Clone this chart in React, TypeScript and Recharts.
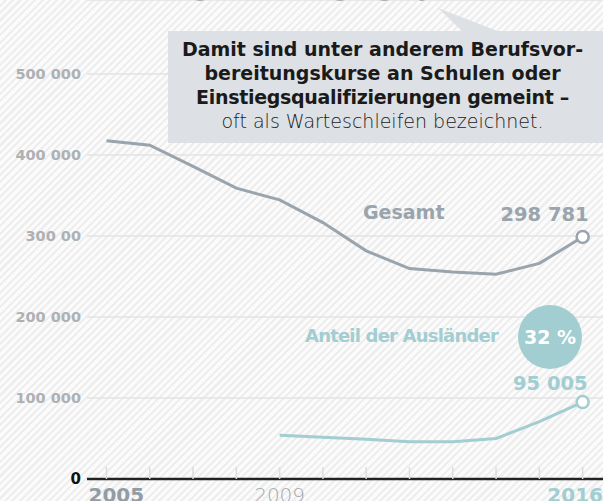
import React from "react";
import {
  LineChart,
  Line,
  XAxis,
  YAxis,
  CartesianGrid,
} from "recharts";

const years = [2005, 2006, 2007, 2008, 2009, 2010, 2011, 2012, 2013, 2014, 2015, 2016];
const gesamt = [417647, 412083, 386000, 358969, 344515, 316494, 281662, 259727, 255401, 252670, 266190, 298781];
const auslaender = [null, null, null, null, 54000, 51500, 49000, 46000, 46000, 50000, 70700, 95005];
const yTicks = [0, 100000, 200000, 300000, 400000, 500000];
const yTickLabels = ["0", "100 000", "200 000", "300 00", "400 000", "500 000"];
const xLabelled = [2005, 2009, 2016];

const W = 603;
const H = 501;
const X_AXIS_H = 22;
const PLOT_BOTTOM = H - X_AXIS_H;

const GRAY = "#9aa4ad";
const TEAL = "#a2cdd1";
const FONT = "'DejaVu Sans', sans-serif";

const data = years.map((year, i) => ({
  year,
  gesamt: gesamt[i],
  auslaender: auslaender[i],
}));

const fmt = (v: number) => String(Math.round(v)).replace(/\B(?=(\d{3})+(?!\d))/g, " ");

function YTick({ x, y, payload }: any) {
  const i = yTicks.indexOf(payload.value);
  const zero = payload.value === 0;
  return (
    <text
      x={x + 2}
      y={y + 5}
      textAnchor="end"
      fontFamily={FONT}
      fontWeight={700}
      fontSize={zero ? 15 : 14.5}
      fill={zero ? "#111" : "#aeb1b4"}
    >
      {yTickLabels[i]}
    </text>
  );
}

function XTick({ x, payload }: any) {
  const v = payload.value;
  const label = xLabelled.includes(v);
  // first label starts at its tick, last one ends at the edge
  const anchor = v === 2005 ? "start" : v === 2016 ? "end" : "middle";
  const lx = v === 2005 ? x - 18 : v === 2016 ? W : x;
  return (
    <g>
      <line x1={x} x2={x} y1={PLOT_BOTTOM - 12} y2={PLOT_BOTTOM} stroke="#dcdcdc" strokeWidth={1.5} />
      {label && (
        <text
          x={lx}
          y={PLOT_BOTTOM + 23}
          textAnchor={anchor}
          fontFamily={FONT}
          fontWeight={v === 2009 ? 300 : 700}
          fontSize={20}
          fill={v === 2016 ? TEAL : v === 2009 ? "#a4a8ac" : "#939ca4"}
        >
          {v}
        </text>
      )}
    </g>
  );
}

// only the last point gets a ring
function endDot(color: string) {
  return (props: any) => {
    const { cx, cy, index } = props;
    if (index !== years.length - 1) return <g key={index} />;
    return <circle key={index} cx={cx} cy={cy} r={6} fill="#fff" stroke={color} strokeWidth={2.5} />;
  };
}

function endLabel(color: string, dx: number, dy: number) {
  return (props: any) => {
    const { x, y, index, value } = props;
    if (index !== years.length - 1) return <g key={index} />;
    return (
      <text key={index} x={x + dx} y={y + dy} textAnchor="end" fontFamily={FONT} fontWeight={700} fontSize={19.5} fill={color}>
        {fmt(value)}
      </text>
    );
  };
}

export default function App() {
  return (
    <div
      style={{
        position: "absolute",
        left: 0,
        top: 0,
        width: W,
        height: H,
        overflow: "hidden",
        background: "repeating-linear-gradient(135deg, #fbfbfb 0px, #fbfbfb 3px, #eeeeee 3px, #eeeeee 5.2px)",
        fontFamily: FONT,
      }}
    >
      {/* title, mostly above the crop */}
      <div
        style={{
          position: "absolute",
          left: 124,
          top: -22,
          fontSize: 21,
          fontWeight: 700,
          color: "#111",
          whiteSpace: "nowrap",
        }}
      >
        Anfänger im Übergangssystem
      </div>

      <LineChart width={W} height={H} data={data} margin={{ top: 0, right: 0, bottom: 0, left: 0 }}>
        <CartesianGrid vertical={false} stroke="#e3e3e3" strokeWidth={1.5} />
        <XAxis
          dataKey="year"
          type="number"
          domain={[2004.55, 2016.47]}
          ticks={years}
          tick={<XTick />}
          tickLine={false}
          axisLine={{ stroke: "#222", strokeWidth: 2.5 }}
          height={X_AXIS_H}
          interval={0}
        />
        <YAxis
          type="number"
          domain={[0, 591300]}
          ticks={yTicks}
          tick={<YTick />}
          tickLine={false}
          axisLine={false}
          width={87}
          interval={0}
        />
        <Line
          dataKey="gesamt"
          stroke={GRAY}
          strokeWidth={3}
          type="linear"
          dot={endDot(GRAY)}
          activeDot={false}
          label={endLabel(GRAY, 6, -16)}
          isAnimationActive={false}
        />
        <Line
          dataKey="auslaender"
          stroke={TEAL}
          strokeWidth={3}
          type="linear"
          dot={endDot(TEAL)}
          activeDot={false}
          connectNulls={false}
          label={endLabel(TEAL, 5, -12)}
          isAnimationActive={false}
        />
      </LineChart>

      {/* callout */}
      <svg width={W} height={150} style={{ position: "absolute", left: 0, top: 0 }}>
        <polygon points="438,8 463,32 500,32" fill="#dde1e5" />
        <rect x={168} y={31} width={W - 168} height={112} fill="#dde1e5" />
      </svg>
      <div
        style={{
          position: "absolute",
          left: 168,
          top: 37,
          width: W - 168,
          textAlign: "center",
          fontSize: 19,
          lineHeight: "24px",
          color: "#1a1a1a",
          whiteSpace: "nowrap",
        }}
      >
        <div style={{ fontWeight: 700, marginLeft: -6 }}>Damit sind unter anderem Berufsvor-</div>
        <div style={{ fontWeight: 700, marginLeft: -6 }}>bereitungskurse an Schulen oder</div>
        <div style={{ fontWeight: 700, marginLeft: -6, letterSpacing: -0.3 }}>Einstiegsqualifizierungen gemeint –</div>
        <div style={{ fontWeight: 300, marginLeft: -6 }}>oft als Warteschleifen bezeichnet.</div>
      </div>

      {/* series names */}
      <div style={{ position: "absolute", left: 363, top: 201, fontSize: 19, fontWeight: 700, color: GRAY, whiteSpace: "nowrap" }}>
        Gesamt
      </div>
      <div
        style={{
          position: "absolute",
          left: 305,
          top: 325,
          fontSize: 18,
          letterSpacing: -0.8,
          fontWeight: 700,
          color: TEAL,
          whiteSpace: "nowrap",
        }}
      >
        Anteil der Ausländer
      </div>
      <div
        style={{
          position: "absolute",
          left: 518,
          top: 305,
          width: 64,
          height: 64,
          borderRadius: 32,
          background: TEAL,
          color: "#fff",
          fontSize: 19,
          fontWeight: 700,
          display: "flex",
          alignItems: "center",
          justifyContent: "center",
        }}
      >
        32 %
      </div>
    </div>
  );
}
